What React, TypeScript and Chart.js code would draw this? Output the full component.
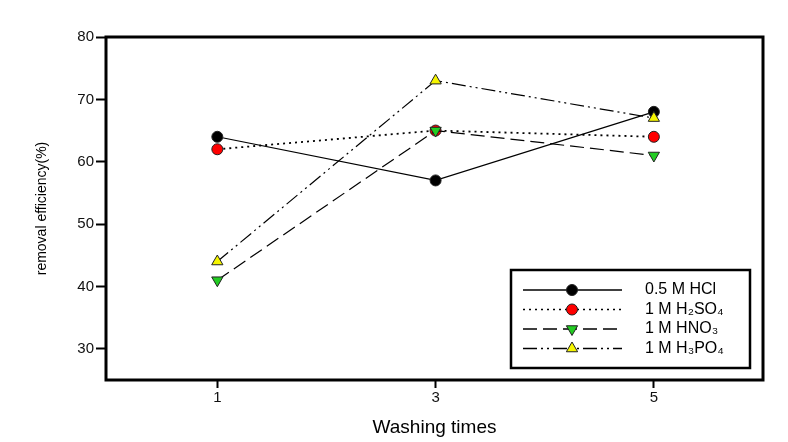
import React, { useEffect, useRef } from "react";
import { Chart, registerables } from "chart.js";

Chart.register(...registerables);

// ---- data ----
const washingTimes = [1, 3, 5];
const hclValues = [64, 57, 68];
const h2so4Values = [62, 65, 64];
const hno3Values = [41, 65, 61];
const h3po4Values = [44, 73, 67];
const seriesLabels = ["0.5 M HCl", "1 M H₂SO₄", "1 M HNO₃", "1 M H₃PO₄"];
const xTicks = [1, 3, 5];
const yTicks = [30, 40, 50, 60, 70, 80];
const xTitle = "Washing times";
const yTitle = "removal efficiency(%)";

const FONT = "'Liberation Sans', Arial, sans-serif";

const toPoints = (vals: number[]) => vals.map((v, i) => ({ x: washingTimes[i], y: v }));

const framePlugin = {
  id: "frame",
  afterDatasetsDraw(chart: any) {
    const { ctx, chartArea } = chart;
    ctx.save();
    ctx.lineWidth = 3;
    ctx.strokeStyle = "#000";
    ctx.strokeRect(chartArea.left, chartArea.top, chartArea.right - chartArea.left, chartArea.bottom - chartArea.top);
    ctx.restore();
  },
};

function drawMarker(ctx: CanvasRenderingContext2D, ds: any, x: number, y: number) {
  const r = ds.pointRadius;
  ctx.beginPath();
  if (ds.pointStyle === "triangle") {
    const rot = ((ds.pointRotation || 0) * Math.PI) / 180;
    for (let k = 0; k < 3; k++) {
      const a = rot + (k * 2 * Math.PI) / 3;
      const px = x + Math.sin(a) * r;
      const py = y - Math.cos(a) * r;
      if (k === 0) ctx.moveTo(px, py);
      else ctx.lineTo(px, py);
    }
    ctx.closePath();
  } else {
    ctx.arc(x, y, r, 0, Math.PI * 2);
  }
  ctx.fillStyle = ds.pointBackgroundColor;
  ctx.fill();
  ctx.lineWidth = ds.pointBorderWidth;
  ctx.strokeStyle = ds.pointBorderColor;
  ctx.stroke();
}

const legendPlugin = {
  id: "boxLegend",
  afterDraw(chart: any) {
    const { ctx, chartArea } = chart;
    const w = 239;
    const h = 98;
    const x0 = chartArea.right - 13 - w;
    const y0 = chartArea.bottom - 12 - h;
    ctx.save();
    ctx.fillStyle = "#fff";
    ctx.fillRect(x0, y0, w, h);
    ctx.lineWidth = 2.5;
    ctx.strokeStyle = "#000";
    ctx.strokeRect(x0, y0, w, h);
    chart.data.datasets.forEach((ds: any, i: number) => {
      const cy = y0 + 20 + i * 19.5;
      ctx.beginPath();
      ctx.setLineDash(ds.borderDash || []);
      ctx.lineWidth = 1.6;
      ctx.strokeStyle = ds.borderColor;
      ctx.moveTo(x0 + 12, cy);
      ctx.lineTo(x0 + 111, cy);
      ctx.stroke();
      ctx.setLineDash([]);
      drawMarker(ctx, ds, x0 + 61, cy);
      ctx.fillStyle = "#000";
      ctx.font = `16px ${FONT}`;
      ctx.textAlign = "left";
      ctx.textBaseline = "middle";
      ctx.fillText(ds.label, x0 + 134, cy);
    });
    ctx.restore();
  },
};

export default function App() {
  const canvasRef = useRef<HTMLCanvasElement | null>(null);

  useEffect(() => {
    document.body.style.margin = "0";
    const canvas = canvasRef.current;
    if (!canvas) return;
    const common = {
      showLine: true,
      fill: false,
      tension: 0,
      pointBorderWidth: 1,
      pointBorderColor: "#222",
    };
    const chart = new Chart(canvas, {
      type: "scatter",
      data: {
        datasets: [
          {
            ...common,
            label: seriesLabels[0],
            data: toPoints(hclValues),
            borderColor: "#000",
            borderWidth: 1.2,
            borderDash: [],
            pointStyle: "circle",
            pointRadius: 5.5,
            pointBackgroundColor: "#000",
            order: 4,
          },
          {
            ...common,
            label: seriesLabels[1],
            data: toPoints(h2so4Values),
            borderColor: "#000",
            borderWidth: 1.8,
            borderDash: [2, 4],
            pointStyle: "circle",
            pointRadius: 5.5,
            pointBackgroundColor: "#ff0000",
            order: 3,
          },
          {
            ...common,
            label: seriesLabels[2],
            data: toPoints(hno3Values),
            borderColor: "#000",
            borderWidth: 1.2,
            borderDash: [14, 6],
            pointStyle: "triangle",
            pointRotation: 180,
            pointRadius: 6.5,
            pointBackgroundColor: "#22cc22",
            order: 2,
          },
          {
            ...common,
            label: seriesLabels[3],
            data: toPoints(h3po4Values),
            borderColor: "#000",
            borderWidth: 1.2,
            borderDash: [14, 4, 2, 4, 2, 4],
            pointStyle: "triangle",
            pointRotation: 0,
            pointRadius: 6.5,
            pointBackgroundColor: "#f5f500",
            order: 1,
          },
        ],
      } as any,
      options: {
        responsive: false,
        animation: false,
        layout: { padding: { top: 37, right: 25, bottom: 0, left: 0 } },
        plugins: {
          legend: { display: false },
          tooltip: { enabled: false },
        },
        scales: {
          x: {
            type: "linear",
            min: -0.02,
            max: 6,
            afterBuildTicks: (s: any) => {
              s.ticks = xTicks.map((v) => ({ value: v }));
            },
            afterFit: (s: any) => {
              s.height = 62;
            },
            grid: { drawOnChartArea: false, drawTicks: true, tickLength: 8, tickWidth: 2, tickColor: "#000" },
            border: { display: false },
            ticks: { color: "#111", font: { family: FONT, size: 15 }, padding: 1, maxRotation: 0, autoSkip: false },
            title: { display: true, text: xTitle, color: "#000", font: { family: FONT, size: 19 }, padding: { top: 0, bottom: 3 } },
          },
          y: {
            type: "linear",
            min: 25,
            max: 80,
            afterBuildTicks: (s: any) => {
              s.ticks = yTicks.map((v) => ({ value: v }));
            },
            afterFit: (s: any) => {
              s.width = 106;
            },
            grid: { drawOnChartArea: false, drawTicks: true, tickLength: 10, tickWidth: 2, tickColor: "#000" },
            border: { display: false },
            ticks: { color: "#111", font: { family: FONT, size: 15 }, padding: 2, autoSkip: false },
            title: { display: true, text: yTitle, color: "#000", font: { family: FONT, size: 14 }, padding: { top: 34, bottom: 0 } },
          },
        },
      } as any,
      plugins: [framePlugin, legendPlugin],
    });
    return () => chart.destroy();
  }, []);

  return (
    <div style={{ width: 788, height: 442 }}>
      <canvas ref={canvasRef} width={788} height={442} style={{ display: "block" }} />
    </div>
  );
}
